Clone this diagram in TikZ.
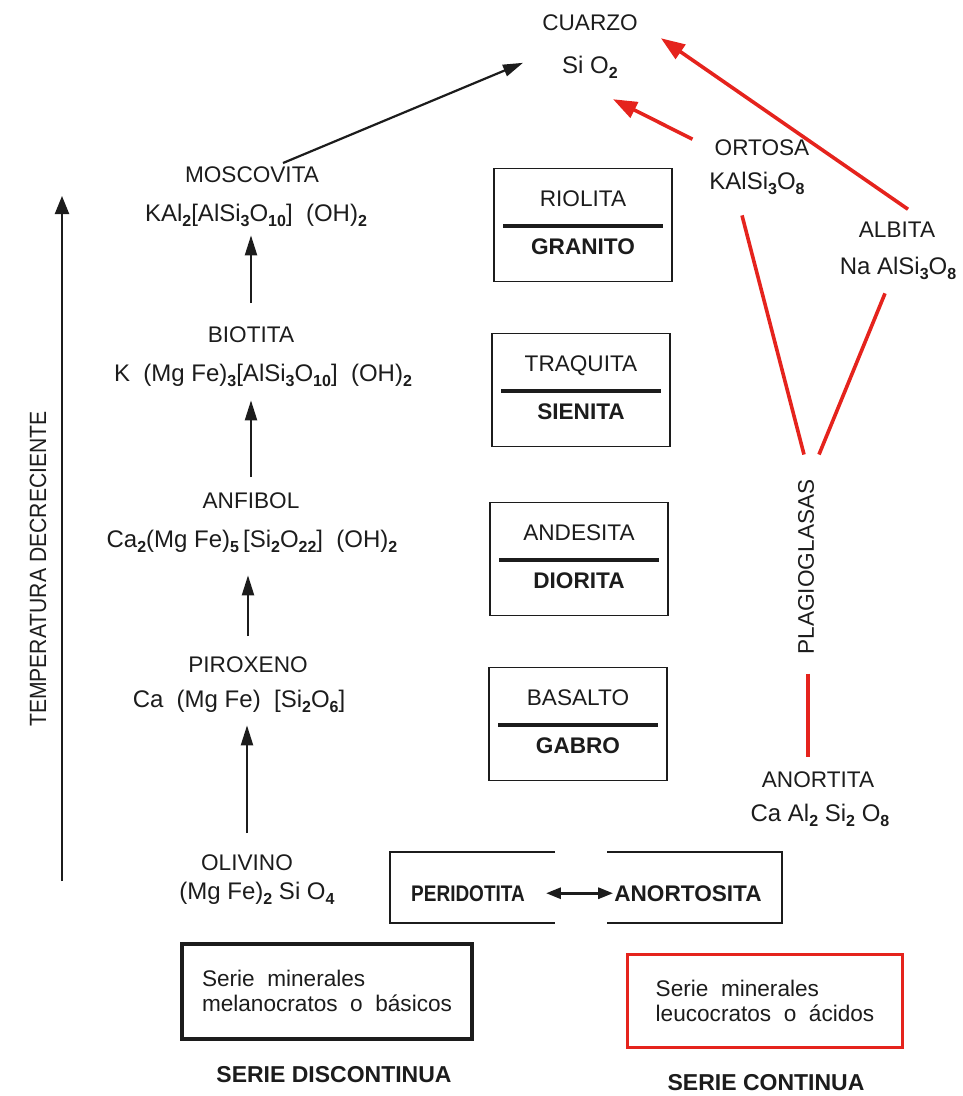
\documentclass[tikz,border=0pt]{standalone}
\usepackage{fontspec}
\setmainfont{Liberation Sans}
\newfontfamily\narrowfont[FakeStretch=0.9]{Liberation Sans}
\usepackage{graphicx}
\usepackage{tikz}
\usetikzlibrary{positioning, calc, arrows.meta}
\definecolor{ink}{HTML}{1C1C1C}
\definecolor{serred}{HTML}{E5231D}

% bold lowered index used in the formulas
\newcommand{\chemidx}[1]{\raisebox{-5pt}{\fontsize{16}{16}\selectfont\bfseries #1}}

\begin{document}
\begin{tikzpicture}[x=1pt, y=-1pt,
  every node/.style={font=\fontsize{22.6}{27}\selectfont, text=ink, inner sep=1pt},
  lbl/.style={anchor=base},
  frm/.style={anchor=base, font=\fontsize{24}{28}\selectfont},
  rock/.style={draw=ink, line width=1.8pt, minimum width=178pt, minimum height=113pt},
  rocksep/.style={draw=ink, line width=4pt},
  blk/.style={draw=ink, line width=2.2pt, -{Triangle[length=20pt, width=12pt]}},
  up/.style={blk, shorten <=#1},
  tarr/.style={draw=ink, line width=2.2pt, -{Triangle[length=18pt, width=14pt]}},
  redarr/.style={draw=serred, line width=3.6pt, -{Triangle[length=24pt, width=17pt]}},
  redline/.style={draw=serred, line width=3.6pt},
  dbl/.style={draw=ink, line width=3pt,
    {Triangle[length=15pt, width=11pt]}-{Triangle[length=15pt, width=11pt]}},
  frame/.style={draw=ink, line width=1.5pt},
  serbox/.style={line width=4pt, align=left, font=\fontsize{22.6}{25}\selectfont},
  sertitle/.style={anchor=base, font=\bfseries\fontsize{23}{27}\selectfont},
]
\useasboundingbox (0,0) rectangle (963,1096);

% Quartz
\node[lbl] (cuarzo) at (590,30) {CUARZO};
\node[frm] (sio2)   at (590,73) {Si O\chemidx{2}};

% Discontinuous series
\node[lbl] (moscovita)  at (252,182) {MOSCOVITA};
\node[frm] (moscovitaF) at (256,221) {KAl\chemidx{2}[AlSi\chemidx{3}O\chemidx{10}]\ \ (OH)\chemidx{2}};
\node[lbl] (biotita)    at (251,342) {BIOTITA};
\node[frm] (biotitaF)   at (263,381) {K\ \ (Mg Fe)\chemidx{3}[AlSi\chemidx{3}O\chemidx{10}]\ \ (OH)\chemidx{2}};
\node[lbl] (anfibol)    at (251,508) {ANFIBOL};
\node[frm] (anfibolF)   at (252,547) {Ca\chemidx{2}(Mg Fe)\chemidx{5}\,[Si\chemidx{2}O\chemidx{22}]\ \ (OH)\chemidx{2}};
\node[lbl] (piroxeno)   at (248,672) {PIROXENO};
\node[frm] (piroxenoF)  at (239,707) {Ca\ \ (Mg Fe)\ \ [Si\chemidx{2}O\chemidx{6}]};
\node[lbl] (olivino)    at (247,870) {OLIVINO};
\node[frm] (olivinoF)   at (257,899) {(Mg Fe)\chemidx{2} Si O\chemidx{4}};

\draw[up=20pt, shorten >=12pt] (olivino.north) -- (olivino.north |- piroxenoF.south);
\draw[up=19pt, shorten >=22pt] (piroxeno.north) -- (piroxeno.north |- anfibolF.south);
\draw[up=14pt, shorten >=13pt] (anfibol.north) -- (anfibol.north |- biotitaF.south);
\draw[up=22pt, shorten >=8pt]  (biotita.north) -- (biotita.north |- moscovitaF.south);
\draw[blk] ($(moscovita.north)+(31,-2)$) -- ($(sio2.west)+(-38,-4)$);

% Temperature axis
\coordinate (tbase) at (62,881);
\coordinate (ttop)  at (62,196);
\draw[tarr] (tbase) -- (ttop);
\node[rotate=90, font=\narrowfont\fontsize{23.5}{27}\selectfont] (temp) at (38,569) {TEMPERATURA DECRECIENTE};

% Rock pairs
\node[rock] (rb1) at (583,225) {};
\node[lbl] (riolita) at ($(rb1.center)+(0,-19)$) {RIOLITA};
\node[lbl] (granito) at ($(rb1.center)+(0,29)$) {\textbf{GRANITO}};
\draw[rocksep] ($(rb1.west)+(10,1)$) -- ($(rb1.east)+(-10,1)$);

\node[rock] (rb2) at (581,390) {};
\node[lbl] (traquita) at ($(rb2.center)+(0,-19)$) {TRAQUITA};
\node[lbl] (sienita)  at ($(rb2.center)+(0,29)$) {\textbf{SIENITA}};
\draw[rocksep] ($(rb2.west)+(10,1)$) -- ($(rb2.east)+(-10,1)$);

\node[rock] (rb3) at (579,559) {};
\node[lbl] (andesita) at ($(rb3.center)+(0,-19)$) {ANDESITA};
\node[lbl] (diorita)  at ($(rb3.center)+(0,29)$) {\textbf{DIORITA}};
\draw[rocksep] ($(rb3.west)+(10,1)$) -- ($(rb3.east)+(-10,1)$);

\node[rock] (rb4) at (578,724) {};
\node[lbl] (basalto) at ($(rb4.center)+(0,-19)$) {BASALTO};
\node[lbl] (gabro)   at ($(rb4.center)+(0,29)$) {\textbf{GABRO}};
\draw[rocksep] ($(rb4.west)+(10,1)$) -- ($(rb4.east)+(-10,1)$);

% Peridotite - anorthosite
\node[lbl] (peridotita) at (468,901) {\scalebox{0.84}[1]{\bfseries PERIDOTITA}};
\node[lbl] (anortosita) at (688,901) {\bfseries ANORTOSITA};
\draw[dbl, shorten <=20pt] (peridotita) -- (anortosita);
\draw[frame] (555,852) -| (390,923) -- (555,923);
\draw[frame] (607,852) -| (782,923) -- (607,923);

% Continuous series
\node[lbl] (ortosa)    at (762,155) {ORTOSA};
\node[frm] (ortosaF)   at (757,189) {KAlSi\chemidx{3}O\chemidx{8}};
\node[lbl] (albita)    at (897,237) {ALBITA};
\node[frm] (albitaF)   at (898,274) {Na AlSi\chemidx{3}O\chemidx{8}};
\node[rotate=90] (plagio) at (806,567) {PLAGIOGLASAS};
\node[lbl] (anortita)  at (818,787) {ANORTITA};
\node[frm] (anortitaF) at (820,821) {Ca Al\chemidx{2} Si\chemidx{2} O\chemidx{8}};

\draw[redarr] ($(ortosa.west)+(-21,-8)$) -- ($(sio2.south east)+(-6,20)$);
\draw[redarr] ($(albita.north)+(11,-11)$) -- ($(cuarzo.east)+(22,16)$);
\draw[redline] ($(ortosaF.south)+(-15,20)$) -- ($(plagio.east)+(-2,-24)$);
\draw[redline] ($(albitaF.south)+(-13,13)$) -- ($(plagio.east)+(13,-24)$);
\draw[redline] ($(plagio.west)+(2,18)$) -- ($(anortita.north)+(-10,-13)$);

% Legend
\node[serbox, draw=ink, minimum width=290pt, minimum height=95pt] (basicos) at (327,991)
  {Serie\ \ minerales\\melanocratos\ \ o\ \ básicos};
\node[serbox, draw=serred, line width=3pt, minimum width=275pt, minimum height=93pt] (acidos) at (765,1001)
  {Serie\ \ minerales\\leucocratos\ \ o\ \ ácidos};
\node[sertitle] (discont) at (334,1082) {SERIE DISCONTINUA};
\node[sertitle] (cont)    at (766,1090) {SERIE CONTINUA};
\end{tikzpicture}
\end{document}
